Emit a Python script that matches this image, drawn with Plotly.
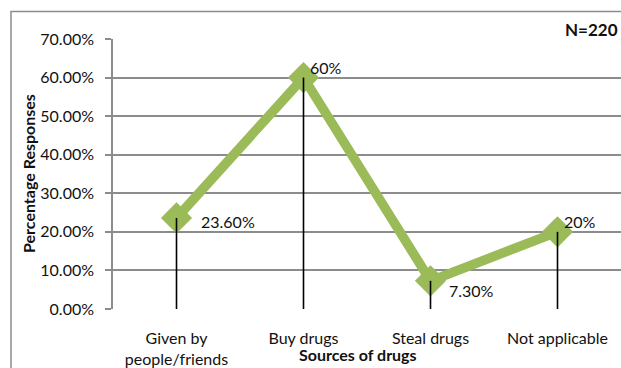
import plotly.graph_objects as go

# Sources of drugs reported by respondents (N=220)
categories = ["Given by<br>people/friends", "Buy drugs", "Steal drugs", "Not applicable"]
percentages = [23.6, 60.0, 7.3, 20.0]
value_labels = ["23.60%", "60%", "7.30%", "20%"]
y_ticks = [0, 10, 20, 30, 40, 50, 60, 70]
y_tick_labels = ["0.00%", "10.00%", "20.00%", "30.00%", "40.00%", "50.00%", "60.00%", "70.00%"]

FONT = "Lato, Open Sans, sans-serif"
GREEN = "#9BBB59"
GRID = "#8c8c8c"
TEXT = "#111111"

fig = go.Figure()

# Main series: thick green line with diamond markers
fig.add_trace(go.Scatter(
    x=categories, y=percentages,
    mode="lines+markers",
    line=dict(color=GREEN, width=9.5),
    marker=dict(symbol="diamond", size=24, color=GREEN),
    hoverinfo="skip", showlegend=False,
))

# Drop lines from each point down to the category axis
drop_x, drop_y = [], []
for c, v in zip(categories, percentages):
    drop_x += [c, c, None]
    drop_y += [0, v, None]
fig.add_trace(go.Scatter(
    x=drop_x, y=drop_y, mode="lines",
    line=dict(color="black", width=1.6),
    hoverinfo="skip", showlegend=False,
))

# Data labels
label_shift = [(22, -4), (4, 10), (16, -10), (4, 10)]
for c, v, t, (dx, dy) in zip(categories, percentages, value_labels, label_shift):
    fig.add_annotation(
        x=c, y=v, text=t, showarrow=False,
        xanchor="left", yanchor="middle",
        xshift=dx, yshift=dy,
        font=dict(family=FONT, size=16, color=TEXT),
    )

fig.update_layout(
    width=621, height=368,
    margin=dict(l=113, r=0, t=39, b=55),
    paper_bgcolor="white", plot_bgcolor="white",
    font=dict(family=FONT, size=16, color=TEXT),
    xaxis=dict(
        type="category",
        range=[-0.5, len(categories) - 0.5],
        showgrid=False,
        showline=False,
        ticks="",
        ticklabelstandoff=18,
        tickfont=dict(family=FONT, size=16, color=TEXT),
        fixedrange=True,
    ),
    yaxis=dict(
        range=[0, 70],
        tickvals=y_ticks,
        ticktext=y_tick_labels,
        showgrid=True, gridcolor=GRID, gridwidth=1.5,
        showline=True, linecolor=GRID, linewidth=1.5,
        ticks="outside", ticklen=6, tickcolor=GRID, tickwidth=1.5,
        ticklabelstandoff=8,
        zeroline=False,
        tickfont=dict(family=FONT, size=16, color=TEXT),
        fixedrange=True,
    ),
)

# Chart area border
fig.add_shape(
    type="rect", xref="paper", yref="paper",
    x0=(11 - 113) / 508, x1=1.05, y0=-0.3, y1=(313 - 11) / 274,
    line=dict(color=GRID, width=1.5), fillcolor="rgba(0,0,0,0)", layer="below",
)

# Axis titles and sample size note
fig.add_annotation(
    xref="paper", yref="paper", x=(28 - 113) / 508, y=0.5,
    xanchor="center", yanchor="middle",
    text="<b>Percentage Responses</b>", textangle=-90, showarrow=False,
    font=dict(family=FONT, size=16, color=TEXT),
)
fig.add_annotation(
    xref="paper", yref="paper", x=(358 - 113) / 508, y=(313 - 359) / 274,
    xanchor="center", yanchor="middle",
    text="<b>Sources of drugs</b>", showarrow=False,
    font=dict(family=FONT, size=16, color=TEXT),
)
fig.add_annotation(
    xref="paper", yref="paper", x=(563 - 113) / 508, y=(313 - 29) / 274,
    xanchor="left", yanchor="middle",
    text="<b>N=220</b>", showarrow=False,
    font=dict(family=FONT, size=17, color=TEXT),
)

fig.write_html("out.html")
